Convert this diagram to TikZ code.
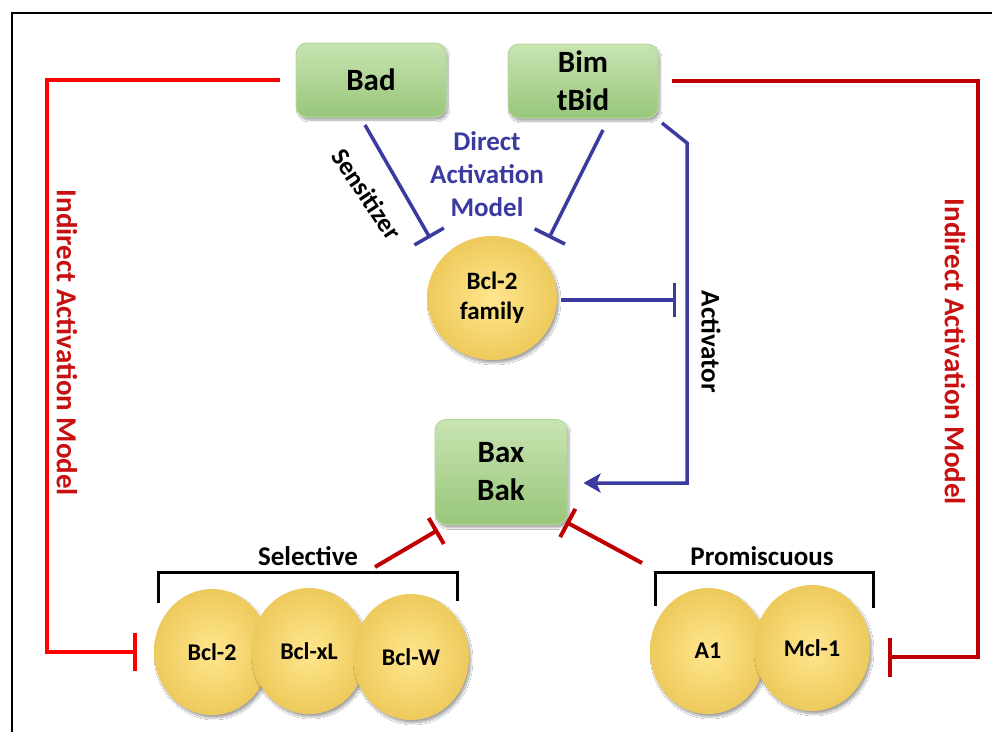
\documentclass[tikz,border=0pt]{standalone}
\usepackage{fontspec}
\setmainfont{Carlito}
\usetikzlibrary{arrows.meta,shapes.geometric,shadows.blur}
\definecolor{blueL}{RGB}{58,58,160}
\definecolor{redA}{RGB}{255,0,0}
\definecolor{redB}{RGB}{192,0,0}
\definecolor{redT}{RGB}{200,16,16}
\definecolor{gTop}{RGB}{200,228,178}
\definecolor{gBot}{RGB}{152,198,122}
\definecolor{gEdge}{RGB}{182,216,158}
\definecolor{yIn}{RGB}{255,230,142}
\definecolor{yOut}{RGB}{238,202,92}
\begin{document}
\begin{tikzpicture}[x=1pt,y=-1pt,
  gbox/.style={rectangle, rounded corners=11pt, top color=gTop, bottom color=gBot,
    draw=gEdge, line width=1pt, align=center, inner sep=0pt,
    font=\bfseries\fontsize{31}{38}\selectfont,
    blur shadow={shadow xshift=2pt, shadow yshift=-3pt, shadow opacity=35, shadow blur steps=10}},
  yball/.style={ellipse, inner color=yIn, outer color=yOut, draw=none, inner sep=0pt,
    minimum width=116pt, minimum height=126pt, align=center,
    font=\bfseries\fontsize{24}{29}\selectfont,
    blur shadow={shadow xshift=2pt, shadow yshift=-3pt, shadow opacity=35, shadow blur steps=10}},
  blueinh/.style={draw=blueL, line width=3.5pt, -{Bar[width=34pt]}},
  bluearr/.style={draw=blueL, line width=3.5pt, -{Stealth[length=17pt,width=19pt,inset=4pt]}},
  redinh/.style={line width=4pt, -{Bar[width=34pt]}},
  brack/.style={draw=black, line width=3pt},
  lbl/.style={font=\bfseries\fontsize{27}{33}\selectfont, inner sep=0pt},
  redlbl/.style={font=\bfseries\fontsize{29}{34}\selectfont, text=redT, inner sep=0pt, rotate=-90}
]
\clip (0,0) rectangle (992,731);
\fill[white] (0,0) rectangle (992,731);
% frame
\draw[line width=2pt] (12,760) -- (12,13) -- (1010,13);

% nodes
\node[gbox, minimum width=150pt, minimum height=74pt] (bad) at (371,80) {Bad};
\node[gbox, minimum width=150pt, minimum height=74pt] (bim) at (583,81) {Bim\\tBid};
\node[gbox, minimum width=132pt, minimum height=105pt] (bax) at (501,472) {Bax\\Bak};
\node[yball, minimum width=130pt, minimum height=124pt, font=\bfseries\fontsize{25}{30}\selectfont] (fam) at (492,298) {Bcl-2\\family};

\node[yball] (e1) at (212,652) {Bcl-2};
\node[yball] (e2) at (309,651) {Bcl-xL};
\node[yball] (e3) at (411,657) {Bcl-W};
\node[yball] (e4) at (708,651) {A1};
\node[yball] (e5) at (812,648) {Mcl-1};

% labels
\node[lbl, text=blueL, align=center] (dam) at (487,174) {Direct\\Activation\\Model};
\node[lbl, rotate=-56, font=\bfseries\fontsize{26}{32}\selectfont] (sens) at (367,194) {Sensitizer};
\node[lbl, rotate=-90] (act) at (711,342) {Activator};
\node[redlbl] (indL) at (67,343) {Indirect Activation Model};
\node[redlbl] (indR) at (955,352) {Indirect Activation Model};
\node[lbl, anchor=base] (sel) at (308,565) {Selective};
\node[lbl, anchor=base] (prom) at (762,565) {Promiscuous};

% brackets
\draw[brack] (158,603) -- (158,572) -- (457,572) -- (457,601);
\draw[brack] (655,606) -- (655,572) -- (873,572) -- (873,608);

% coordinates for free ends
\coordinate (s1) at (365,125);
\coordinate (s2) at (430,238);
\coordinate (b1) at (603,130);
\coordinate (b2) at (549,238);
\coordinate (a1) at (662,123);
\coordinate (a2) at (687,143);
\coordinate (f2) at (676,300);
\coordinate (r1) at (375,567);
\coordinate (r2) at (438,530);
\coordinate (r3) at (642,563);
\coordinate (r4) at (566,522);

% blue connectors
\draw[blueinh] (s1) -- (s2);
\draw[blueinh] (b1) -- (b2);
\draw[blueinh] ([xshift=4pt]fam.east |- f2) -- (f2);
\draw[bluearr] (a1) -- (a2) |- ([xshift=16pt,yshift=-11pt]bax.east);

% red connectors
\draw[redinh, draw=redB, -{Bar[width=30pt]}] (r1) -- (r2);
\draw[redinh, draw=redB, -{Bar[width=32pt]}] (r3) -- (r4);
\draw[redinh, draw=redA, -{Bar[width=38pt]}] ([xshift=-16pt]bad.west) -- (47,80) |- ([xshift=-17pt]e1.west);
\draw[redinh, draw=redB, -{Bar[width=39pt]}] ([xshift=13pt]bim.east) -- (978,81) |- ([xshift=18pt,yshift=-9pt]e5.east);
\end{tikzpicture}
\end{document}
